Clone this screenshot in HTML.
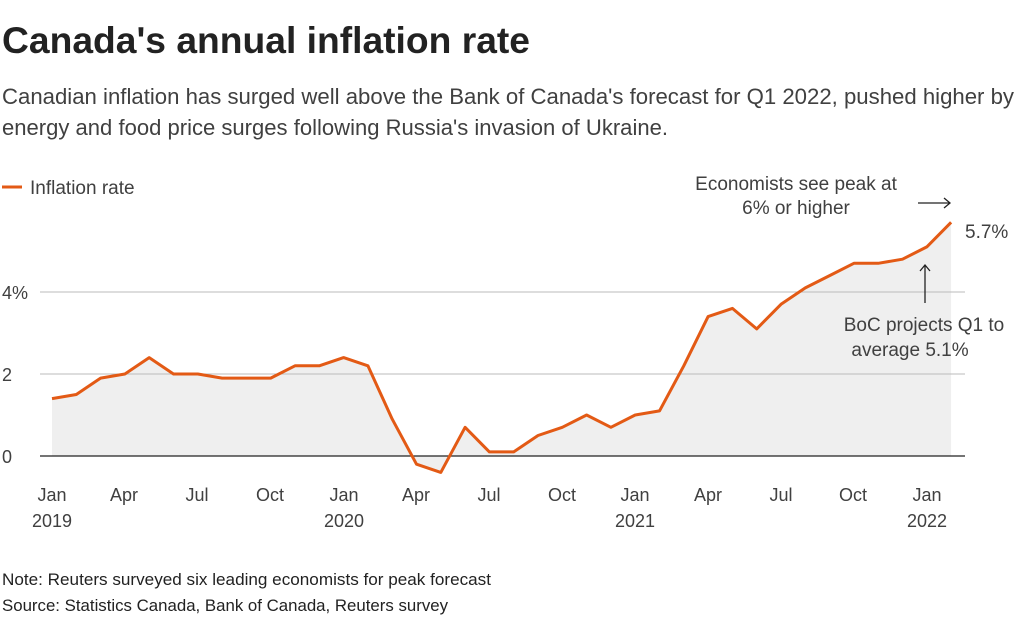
<!DOCTYPE html>
<html><head><meta charset="utf-8"><style>
body{margin:0;background:#fff;width:1024px;height:621px;overflow:hidden;font-family:"Liberation Sans",sans-serif;}
</style></head><body>
<svg width="1024" height="621" xmlns="http://www.w3.org/2000/svg" font-family="Liberation Sans, sans-serif">
<text x="2" y="53" font-size="37" font-weight="bold" fill="#222" textLength="528" lengthAdjust="spacingAndGlyphs">Canada's annual inflation rate</text>
<text x="2" y="104" font-size="22" fill="#404040" textLength="1012" lengthAdjust="spacingAndGlyphs">Canadian inflation has surged well above the Bank of Canada's forecast for Q1 2022, pushed higher by</text>
<text x="2" y="135" font-size="22" fill="#404040" textLength="666" lengthAdjust="spacingAndGlyphs">energy and food price surges following Russia's invasion of Ukraine.</text>
<line x1="2" y1="187" x2="22" y2="187" stroke="#e35a15" stroke-width="3"/>
<text x="30" y="194" font-size="19" fill="#404040">Inflation rate</text>
<polygon fill="#efefef" points="52,456 52,398.6 76.3,394.5 100.6,378.1 124.9,374 149.2,357.6 173.5,374 197.8,374 222.1,378.1 246.4,378.1 270.7,378.1 295,365.8 319.3,365.8 343.6,357.6 367.9,365.8 392.2,419.1 416.5,464.2 440.8,472.4 465.1,427.3 489.4,451.9 513.7,451.9 538,435.5 562.3,427.3 586.6,415 610.9,427.3 635.2,415 659.5,410.9 683.8,365.8 708.1,316.6 732.4,308.4 756.7,328.9 781,304.3 805.3,287.9 829.6,275.6 853.9,263.3 878.2,263.3 902.5,259.2 926.8,246.9 951.1,222.3 951.1,456"/>
<line x1="40" y1="292" x2="965" y2="292" stroke="#bbb" stroke-width="1"/>
<line x1="40" y1="374" x2="965" y2="374" stroke="#bbb" stroke-width="1"/>
<line x1="40" y1="456" x2="965" y2="456" stroke="#222" stroke-width="1.3"/>
<text x="2" y="299" font-size="18" fill="#404040">4%</text>
<text x="2" y="381" font-size="18" fill="#404040">2</text>
<text x="2" y="463" font-size="18" fill="#404040">0</text>
<polyline fill="none" stroke="#e35a15" stroke-width="3" stroke-linejoin="round" points="52,398.6 76.3,394.5 100.6,378.1 124.9,374 149.2,357.6 173.5,374 197.8,374 222.1,378.1 246.4,378.1 270.7,378.1 295,365.8 319.3,365.8 343.6,357.6 367.9,365.8 392.2,419.1 416.5,464.2 440.8,472.4 465.1,427.3 489.4,451.9 513.7,451.9 538,435.5 562.3,427.3 586.6,415 610.9,427.3 635.2,415 659.5,410.9 683.8,365.8 708.1,316.6 732.4,308.4 756.7,328.9 781,304.3 805.3,287.9 829.6,275.6 853.9,263.3 878.2,263.3 902.5,259.2 926.8,246.9 951.1,222.3"/>
<g font-size="18" fill="#404040" text-anchor="middle">
<text x="52" y="501">Jan</text><text x="52" y="527">2019</text>
<text x="124" y="501">Apr</text><text x="197" y="501">Jul</text><text x="270" y="501">Oct</text>
<text x="344" y="501">Jan</text><text x="344" y="527">2020</text>
<text x="416" y="501">Apr</text><text x="489" y="501">Jul</text><text x="562" y="501">Oct</text>
<text x="635" y="501">Jan</text><text x="635" y="527">2021</text>
<text x="708" y="501">Apr</text><text x="781" y="501">Jul</text><text x="853" y="501">Oct</text>
<text x="927" y="501">Jan</text><text x="927" y="527">2022</text>
</g>
<g font-size="19" fill="#404040" text-anchor="middle">
<text x="796" y="190">Economists see peak at</text>
<text x="796" y="214">6% or higher</text>
<text x="924" y="331">BoC projects Q1 to</text>
<text x="910" y="356">average 5.1%</text>
</g>
<text x="965" y="238" font-size="19" fill="#404040">5.7%</text>
<line x1="918" y1="203" x2="950" y2="203" stroke="#222" stroke-width="1.3"/>
<polyline points="944,198 950,203 944,208" fill="none" stroke="#222" stroke-width="1.3"/>
<line x1="925" y1="265" x2="925" y2="303" stroke="#222" stroke-width="1.3"/>
<polyline points="920,271 925,265 930,271" fill="none" stroke="#222" stroke-width="1.3"/>
<text x="2" y="585" font-size="17" fill="#222" textLength="489" lengthAdjust="spacingAndGlyphs">Note: Reuters surveyed six leading economists for peak forecast</text>
<text x="2" y="611" font-size="17" fill="#222" textLength="446" lengthAdjust="spacingAndGlyphs">Source: Statistics Canada, Bank of Canada, Reuters survey</text>
</svg>
</body></html>
